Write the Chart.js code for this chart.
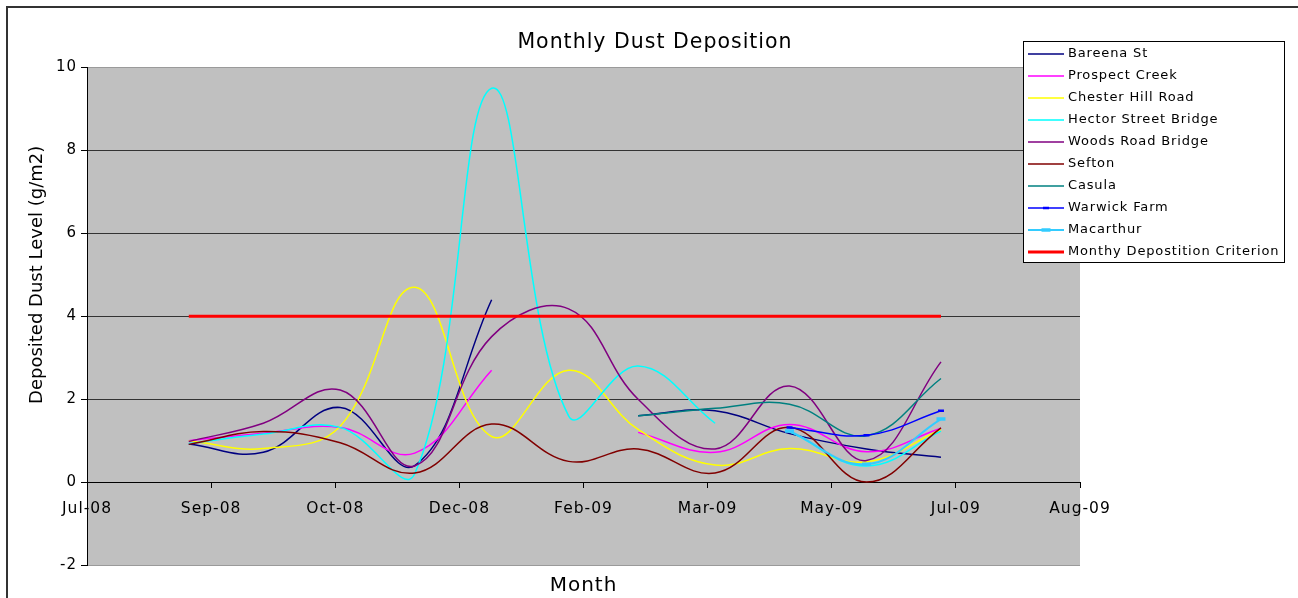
<!DOCTYPE html>
<html>
<head>
<meta charset="utf-8">
<title>Monthly Dust Deposition</title>
<script src="https://cdn.jsdelivr.net/npm/chart.js@4.4.1/dist/chart.umd.min.js"></script>
<style>
  html, body { margin: 0; padding: 0; background: #fff; }
  canvas { display: block; }
</style>
</head>
<body>
<canvas id="myChart" width="1298" height="598"></canvas>
<script>
// one reading per month, taken at month end
const months = ["2008-08-31", "2008-09-30", "2008-10-31", "2008-11-30", "2008-12-31", "2009-01-31",
                "2009-02-28", "2009-03-31", "2009-04-30", "2009-05-31", "2009-06-30"];
// x axis starts here, ticks every 50 days (Excel date axis)
const axisStart = "2008-07-21";
const xTickLabels = ["Jul-08", "Sep-08", "Oct-08", "Dec-08", "Feb-09", "Mar-09", "May-09", "Jul-09", "Aug-09"];

const seriesNames = ["Bareena St", "Prospect Creek", "Chester Hill Road", "Hector Street Bridge",
                     "Woods Road Bridge", "Sefton", "Casula", "Warwick Farm", "Macarthur",
                     "Monthy Depostition Criterion"];

const bareenaSt     = [0.92, 0.72, 1.8, 0.4, 4.4, null, 1.6, 1.72, 1.17, 0.8, 0.6];
const prospectCreek = [1.0, 1.18, 1.32, 0.7, 2.7, null, 1.2, 0.72, 1.39, 0.73, 1.3];
const chesterHill   = [1.0, 0.81, 1.35, 4.7, 1.1, 2.7, 1.27, 0.41, 0.81, 0.49, 1.27];
// Hector St has a break between the March and April readings
const hectorDates   = ["2008-08-31", "2008-09-30", "2008-10-31", "2008-11-30", "2008-12-31", "2009-01-31",
                       "2009-02-28", "2009-03-31", "2009-04-15", "2009-04-30", "2009-05-31", "2009-06-30"];
const hectorStreet  = [0.93, 1.16, 1.32, 0.2, 9.5, 1.6, 2.8, 1.42, null, 1.22, 0.39, 1.23];
const woodsRoad     = [0.98, 1.42, 2.22, 0.39, 3.51, 4.18, 2.0, 0.8, 2.32, 0.52, 2.9];
const sefton        = [0.91, 1.22, 0.95, 0.22, 1.4, 0.5, 0.8, 0.22, 1.32, 0.0, 1.31];
const casula        = [null, null, null, null, null, null, 1.6, 1.78, 1.88, 1.12, 2.5];
const warwickFarm   = [null, null, null, null, null, null, null, null, 1.32, 1.13, 1.72];
const macarthur     = [null, null, null, null, null, null, null, null, 1.23, 0.43, 1.52];
const criterion     = [4, 4, 4, 4, 4, 4, 4, 4, 4, 4, 4];

const colours = ["#000080", "#FF00FF", "#FFFF00", "#00FFFF", "#800080", "#800000",
                 "#008080", "#0000FF", "#33CCFF", "#FF0000"];

function dayOf(d) {
  return (Date.parse(d) - Date.parse(axisStart)) / 86400000;
}
function toPoints(dates, vals) {
  return dates.map((d, i) => ({ x: dayOf(d), y: vals[i] }));
}

const seriesData = [
  toPoints(months, bareenaSt),
  toPoints(months, prospectCreek),
  toPoints(months, chesterHill),
  toPoints(hectorDates, hectorStreet),
  toPoints(months, woodsRoad),
  toPoints(months, sefton),
  toPoints(months, casula),
  toPoints(months, warwickFarm),
  toPoints(months, macarthur),
  toPoints(months, criterion),
];

const datasets = seriesData.map((data, i) => ({
  label: seriesNames[i],
  data: data,
  borderColor: colours[i],
  backgroundColor: colours[i],
  borderWidth: 1.5,
  tension: 0.4,
  pointRadius: 0,
  spanGaps: false,
  fill: false,
  order: seriesNames.length - i,
}));
// dash markers on the last two sites
datasets[7].pointStyle = "line";
datasets[7].pointRadius = 3;
datasets[7].pointBorderWidth = 2.5;
datasets[8].pointStyle = "line";
datasets[8].pointRadius = 4.5;
datasets[8].pointBorderWidth = 3.5;
datasets[8].borderWidth = 2;
// criterion line: thick red, straight, on top
datasets[9].borderWidth = 3;
datasets[9].tension = 0;
datasets[9].order = 0;

// Excel's text is spaced wider than DejaVu
const wideText = {
  id: "wideText",
  beforeUpdate(chart) { chart.ctx.letterSpacing = "1px"; },
  beforeDraw(chart) { chart.ctx.letterSpacing = "1px"; },
};

const plotBackground = {
  id: "plotBackground",
  beforeDraw(chart) {
    const { ctx, chartArea: a } = chart;
    ctx.save();
    ctx.fillStyle = "#C0C0C0";
    ctx.fillRect(a.left, a.top, a.right - a.left, a.bottom - a.top);
    // frame around the chart object
    ctx.strokeStyle = "#333";
    ctx.lineWidth = 2;
    ctx.beginPath();
    ctx.moveTo(7, 598);
    ctx.lineTo(7, 7);
    ctx.lineTo(1298, 7);
    ctx.stroke();
    ctx.restore();
  }
};

// y title: Excel centres it on the 0..10 part of the axis
const yTitle = {
  id: "yTitle",
  afterDraw(chart) {
    const ctx = chart.ctx;
    const y = chart.scales.y;
    ctx.save();
    ctx.letterSpacing = "0px";
    ctx.translate(37, (y.getPixelForValue(0) + y.getPixelForValue(10)) / 2);
    ctx.rotate(-Math.PI / 2);
    ctx.font = "18px 'DejaVu Sans'";
    ctx.fillStyle = "#000";
    ctx.textAlign = "center";
    ctx.textBaseline = "middle";
    ctx.fillText("Deposited Dust Level (g/m2)", 0, 0);
    ctx.restore();
  }
};

const boxLegend = {
  id: "boxLegend",
  afterDraw(chart) {
    const ctx = chart.ctx;
    const x = 1023, y = 41, w = 261, h = 221;
    ctx.save();
    ctx.fillStyle = "#fff";
    ctx.fillRect(x, y, w, h);
    ctx.strokeStyle = "#000";
    ctx.lineWidth = 1;
    ctx.strokeRect(x + 0.5, y + 0.5, w, h);
    ctx.letterSpacing = "0.85px";
    ctx.font = "13px 'DejaVu Sans'";
    ctx.textBaseline = "middle";
    chart.data.datasets.forEach((ds, i) => {
      const ly = 54 + i * 22;
      ctx.strokeStyle = ds.borderColor;
      ctx.lineWidth = ds.borderWidth;
      ctx.beginPath();
      ctx.moveTo(x + 5, ly);
      ctx.lineTo(x + 41, ly);
      ctx.stroke();
      if (ds.pointRadius > 0) {
        ctx.lineWidth = ds.pointBorderWidth;
        ctx.beginPath();
        ctx.moveTo(x + 23 - ds.pointRadius, ly);
        ctx.lineTo(x + 23 + ds.pointRadius, ly);
        ctx.stroke();
      }
      ctx.fillStyle = "#000";
      ctx.fillText(ds.label, x + 45, ly);
    });
    ctx.restore();
  }
};

Chart.defaults.font.family = "'DejaVu Sans', Verdana, sans-serif";
Chart.defaults.color = "#000";

new Chart(document.getElementById("myChart"), {
  type: "line",
  data: { datasets: datasets },
  options: {
    responsive: false,
    animation: false,
    devicePixelRatio: 1,
    layout: { padding: { left: 12, right: 0, top: 0, bottom: 0 } },
    plugins: {
      legend: { display: false },
      tooltip: { enabled: false },
      title: {
        display: true,
        text: "Monthly Dust Deposition",
        color: "#000",
        font: { size: 20.5, weight: "normal" },
        padding: { top: 30, bottom: 13 },
      },
    },
    scales: {
      x: {
        type: "linear",
        position: { y: 0 },
        min: 0,
        max: 400,
        ticks: {
          stepSize: 50,
          autoSkip: false,
          maxRotation: 0,
          padding: 13,
          font: { size: 15.5 },
          callback: function (value, index) {
            return xTickLabels[index];
          },
        },
        grid: { drawOnChartArea: false, drawTicks: true, tickLength: 5, color: "#000" },
        border: { display: true, color: "#000", width: 1 },
      },
      xTitle: {
        type: "linear",
        position: "bottom",
        ticks: { display: false },
        grid: { display: false, drawTicks: false },
        border: { display: false },
        title: {
          display: true,
          text: "Month",
          font: { size: 20 },
          padding: { top: 0, bottom: 0 },
        },
        afterFit: function (scale) { scale.height = 33; },
      },
      y: {
        min: -2,
        max: 10,
        ticks: { stepSize: 2, padding: 4, font: { size: 15 } },
        grid: {
          tickLength: 6,
          tickColor: "#000",
          color: function (context) {
            const v = context.tick.value;
            if (v === 10 || v === -2) return "#9a9a9a";
            return "#333";
          },
        },
        border: { color: "#000" },
        afterFit: function (scale) { scale.width = 75; },
      },
      yRight: {
        position: "right",
        ticks: { display: false },
        grid: { display: false, drawTicks: false },
        border: { display: false },
        afterFit: function (scale) { scale.width = 218; },
      },
    },
  },
  plugins: [wideText, plotBackground, yTitle, boxLegend],
});
</script>
</body>
</html>
